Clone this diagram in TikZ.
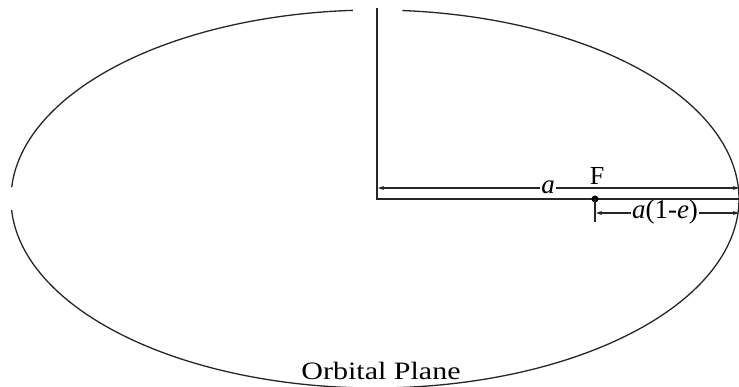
\documentclass[tikz,border=0pt]{standalone}
\usepackage{fontspec}
\setmainfont{Liberation Serif}
\usetikzlibrary{arrows.meta}
\begin{document}
\begin{tikzpicture}[x=1pt,y=-1pt,
  orbit/.style={line width=1.3pt,black!85},
  axis/.style={line width=1.7pt,black!85},
  dim/.style={line width=1.7pt,black!85,{Stealth[length=6pt,width=4pt]}-{Stealth[length=6pt,width=4pt]}},
  lbl/.style={fill=white,inner xsep=1.5pt,inner ysep=0pt,font=\fontsize{27}{29}\selectfont}]
\useasboundingbox (0,0) rectangle (739,387);
% ellipse with gaps (top and left)
\draw[orbit] plot[domain=85.7:-90,samples=120,smooth] ({375+364*cos(\x)},{199-189*sin(\x)});
\draw[orbit] plot[domain=-90:-176.7,samples=120,smooth] ({375+364*cos(\x)},{199-189*sin(\x)});
\draw[orbit] plot[domain=176.4:93.5,samples=120,smooth] ({375+364*cos(\x)},{199-189*sin(\x)});
% dimension a
\coordinate (A1) at (378,188);
\coordinate (A2) at (739,188);
\draw[dim] (A1) -- (A2);
\node[lbl] (alab) at (548,187) {\itshape a};
% dimension a(1-e)
\coordinate (B1) at (596,213);
\coordinate (B2) at (739,213);
\draw[dim] (B1) -- (B2);
\node[lbl] (blab) at (665,212) {\textit{a}(1-\textit{e})};
% axes
\coordinate (C) at (377,199);
\coordinate (T) at (377,8);
\coordinate (R) at (739,199);
\draw[axis] (T) -- (C) -- (R);
% focus
\coordinate (F) at (595,199);
\coordinate (Ft) at (595,222);
\fill (F) circle (3.5pt);
\node[font=\fontsize{26}{28}\selectfont] (Flab) at (597,176) {F};
\draw[axis] (F) -- (Ft);
% title
\node[font=\fontsize{25}{28}\selectfont,xscale=1.2,inner sep=1pt] (title) at (381,371) {Orbital Plane};
\end{tikzpicture}
\end{document}
